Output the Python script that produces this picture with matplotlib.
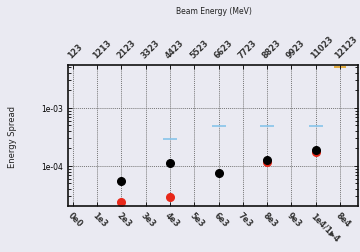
import matplotlib
matplotlib.use("Agg")
import matplotlib.pyplot as plt
import numpy as np

bottom_labels = ["0e0", "1e3", "2e3", "3e3", "4e3", "5e3", "6e3", "7e3", "8e3", "9e3", "1e4/1\u25B64", "8e4"]
top_labels = ["123", "1213", "2123", "3323", "4423", "5523", "6623", "7723", "8823", "9923", "11023", "12123"]

black_x = [2, 4, 6, 8, 10]
black_y = [5.5e-5, 1.11e-4, 7.5e-5, 1.29e-4, 1.87e-4]
red_x = [2, 4, 8, 10]
red_y = [2.42e-5, 2.96e-5, 1.19e-4, 1.74e-4]
blue_x = [4, 6, 8, 10]
blue_y = [2.96e-4, 4.96e-4, 4.96e-4, 4.96e-4]
orange_x = [11]
orange_y = [5.1e-3]

bg = "#eaeaf2"
fig = plt.figure(figsize=(3.6, 2.53), dpi=100, facecolor=bg)
ax = fig.add_axes([67.5/360, 1-207/253, (358-67.5)/360, (207-66)/253])
ax.set_facecolor(bg)
ax.set_yscale("log")
ax.set_xlim(-0.22, 11.74)
ax.set_ylim(2.04e-5, 5.5e-3)

ticks = np.arange(len(bottom_labels))
ax.set_xticks(ticks)
ax.set_xticklabels(bottom_labels, rotation=-45, ha="left", va="top",
                   rotation_mode="anchor", fontsize=5.8, fontweight="bold", color="#333333")
ax.set_yticks([1e-4, 1e-3])
ax.set_yticklabels(["1e-04", "1e-03"], fontsize=5.5, family="DejaVu Sans Condensed")
ax.tick_params(axis="both", which="both", direction="in", top=True, right=True,
               length=3, width=0.6)
ax.tick_params(axis="y", which="minor", length=2)
ax.tick_params(axis="x", pad=3)
ax.grid(True, which="major", axis="both", linestyle=(0, (1, 1)), color="#777777", linewidth=0.7)
for s in ax.spines.values():
    s.set_linewidth(1.2)
    s.set_color("#111111")

ax.plot(blue_x, blue_y, linestyle="none", marker="_", markersize=10, markeredgewidth=1.2, color="#87c4ea")
ax.plot(orange_x, orange_y, linestyle="none", marker="_", markersize=9, markeredgewidth=1.2, color="#e0a020")
ax.plot(red_x, red_y, linestyle="none", marker="o", markersize=5.5, color="#e8281a")
ax.plot(black_x, black_y, linestyle="none", marker="o", markersize=5.5, color="black")

ax2 = ax.twiny()
ax2.set_xlim(ax.get_xlim())
ax2.set_xticks(ticks)
ax2.set_xticklabels(top_labels, rotation=45, ha="left", va="bottom",
                    rotation_mode="anchor", fontsize=5.8, fontweight="bold", color="#333333")
ax2.tick_params(axis="x", direction="in", length=3, width=0.6, pad=4)
for s in ax2.spines.values():
    s.set_visible(False)

fig.text(214/360, 1-11/253, "Beam Energy (MeV)", ha="center", va="center", fontsize=5.5, color="#222222")
fig.text(13/360, 1-137/253, "Energy Spread", ha="center", va="center", rotation=90, fontsize=6, color="#222222")

fig.savefig("out.png", dpi=100, facecolor=bg)
